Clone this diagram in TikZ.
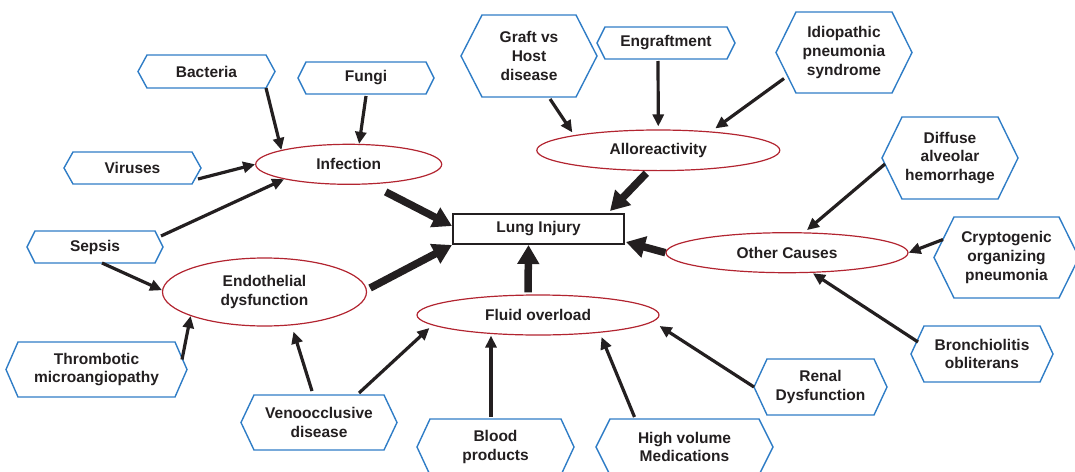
\documentclass[tikz,border=0pt]{standalone}
\usepackage{fontspec}
\setmainfont{Liberation Sans}
\usetikzlibrary{arrows.meta,shapes.geometric,calc}
\definecolor{hexblue}{HTML}{2F7DC6}
\definecolor{ellred}{HTML}{B22430}
\definecolor{ink}{HTML}{231F20}
\tikzset{
 lbl/.style={font=\fontsize{15.5}{18.7}\selectfont\bfseries, text=ink, align=center},
 hexn/.style={lbl, rectangle, inner sep=0pt, outer sep=0pt},
 hexline/.style={draw=hexblue, line width=1.4pt, line join=miter},
 ell/.style={lbl, ellipse, draw=ellred, line width=1.2pt, inner sep=0pt},
 thin arrow/.style={draw=ink, line width=3.2pt, -{Triangle[length=12pt,width=11pt]}},
 thick arrow/.style={draw=ink, line width=7.5pt, -{Triangle[length=19pt,width=21pt]}},
}
\newcommand\hexbox[7]{%
 \node[hexn, minimum width=#4pt, minimum height=#5pt] (#1) at (#2,#3) {#7};
 \draw[hexline] (#1.west) -- ([xshift=#6pt]#1.north west) -- ([xshift=-#6pt]#1.north east) -- (#1.east) -- ([xshift=-#6pt]#1.south east) -- ([xshift=#6pt]#1.south west) -- cycle;}
\begin{document}
\begin{tikzpicture}[x=1pt,y=-1pt]
\useasboundingbox (0,0) rectangle (1075,471);
% hexagons
\hexbox{bact}{206.5}{71.5}{137}{33}{9}{Bacteria}
\hexbox{fungi}{366}{78}{136}{32}{8}{Fungi}
\hexbox{virus}{132.5}{168}{137}{32}{9}{Viruses}
\hexbox{sepsis}{95}{247}{136}{32}{8}{Sepsis}
\hexbox{thromb}{96.5}{369.5}{181}{55}{12}{Thrombotic\\microangiopathy}
\hexbox{veno}{319}{422.5}{156}{55}{13}{Venoocclusive\\disease}
\hexbox{blood}{495.5}{447}{157}{56}{13}{Blood\\products}
\hexbox{highvol}{684.5}{447}{177}{56}{14}{High volume\\Medications}
\hexbox{renal}{820.5}{387}{133}{56}{13}{Renal\\Dysfunction}
\hexbox{bronch}{982}{354}{142}{56}{13}{Bronchiolitis\\obliterans}
\hexbox{crypt}{1006.5}{257.5}{145}{81}{20}{Cryptogenic\\organizing\\pneumonia}
\hexbox{diffuse}{950}{158}{136}{82}{20}{Diffuse\\alveolar\\hemorrhage}
\hexbox{idio}{844}{52.5}{136}{81}{20}{Idiopathic\\pneumonia\\syndrome}
\hexbox{gvhd}{529}{56}{136}{82}{21}{Graft vs\\Host\\disease}
\hexbox{engraft}{666}{43}{138}{32}{8}{Engraftment}
% ellipses
\node[ell, minimum width=186pt, minimum height=40pt] (inf) at (348.7,164.3) {Infection};
\node[ell, minimum width=243pt, minimum height=40.6pt] (allo) at (658.3,150.3) {Alloreactivity};
\node[ell, minimum width=204pt, minimum height=68pt] (endo) at (264.5,292) {Endothelial\\dysfunction};
\node[ell, minimum width=242pt, minimum height=40pt] (fluid) at (538,315) {Fluid overload};
\node[ell, minimum width=242pt, minimum height=40pt] (other) at (787,252.7) {Other Causes};
% central box
\node[lbl, draw=ink, line width=2pt, minimum width=171pt, minimum height=30pt, inner sep=0pt] (lung) at (538.5,229) {Lung Injury};
% thin arrows
\draw[thin arrow] ([xshift=-9pt]bact.south east) -- (inf.168);
\draw[thin arrow] ([yshift=-2pt]fungi.south) -- (inf.63);
\draw[thin arrow] ([xshift=-3pt,yshift=-11pt]virus.east) -- (inf.west);
\draw[thin arrow] ([xshift=-2pt,yshift=11pt]sepsis.east) -- (inf.193);
\draw[thin arrow] ([xshift=7pt]sepsis.south) -- (endo.179);
\draw[thin arrow] ([xshift=-5pt,yshift=10pt]thromb.east) -- (endo.-162);
\draw[thin arrow] ([xshift=-7pt,yshift=4pt]veno.north) -- ([xshift=29pt,yshift=-5pt]endo.south);
\draw[thin arrow] ([xshift=40pt,yshift=2pt]veno.north) -- ([xshift=13pt,yshift=-13pt]fluid.west);
\draw[thin arrow] ([xshift=-4.5pt,yshift=2pt]blood.north) -- ([xshift=-47pt]fluid.south);
\draw[thin arrow] ([xshift=-50pt,yshift=2pt]highvol.north) -- ([xshift=63.5pt,yshift=-1.5pt]fluid.south);
\draw[thin arrow] (renal.west) -- ([yshift=-11pt]fluid.east);
\draw[thin arrow] ([xshift=7pt,yshift=12pt]bronch.west) -- ([xshift=26pt]other.south);
\draw[thin arrow] ([xshift=9pt,yshift=18pt]crypt.west) -- (other.east);
\draw[thin arrow] ([xshift=3pt,yshift=-6pt]diffuse.west) -- ([xshift=20pt,yshift=2pt]other.north);
\draw[thin arrow] ([xshift=21pt,yshift=-2pt]gvhd.south) -- ([xshift=-86pt,yshift=-3pt]allo.north);
\draw[thin arrow] ([xshift=-8pt,yshift=-2pt]engraft.south) -- ([yshift=3pt]allo.north);
\draw[thin arrow] ([xshift=8pt,yshift=-26pt]idio.west) -- ([xshift=57pt,yshift=1pt]allo.north);
% thick arrows
\draw[thick arrow] ([xshift=37pt,yshift=-7pt]inf.south) -- ([yshift=3pt]lung.west);
\draw[thick arrow] ([xshift=3pt,yshift=4pt]endo.east) -- (lung.south west);
\draw[thick arrow] ([xshift=-12pt,yshift=-2pt]allo.south) -- ([xshift=-15pt,yshift=2pt]lung.north east);
\draw[thick arrow] ([xshift=-10pt,yshift=2pt]fluid.north) -- ([xshift=-10pt]lung.south);
\draw[thick arrow] (other.west) -- ([xshift=1pt,yshift=-13pt]lung.east);
\end{tikzpicture}
\end{document}
